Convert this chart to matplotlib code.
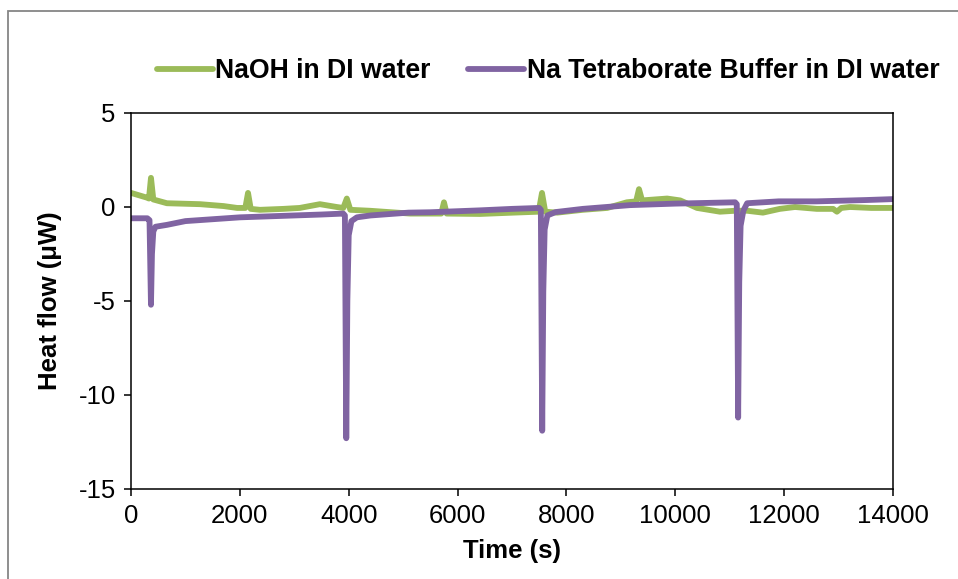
import numpy as np
import matplotlib
matplotlib.use('Agg')
import matplotlib.pyplot as plt
from matplotlib.patches import Rectangle

plt.rcParams['font.family'] = ['Liberation Sans', 'DejaVu Sans']
plt.rcParams['axes.unicode_minus'] = False

# NaOH in DI water (green)
naoh_t = [0, 290, 330, 367, 410, 660, 1270, 1700, 1950, 2100, 2150, 2200, 2370,
          2800, 3100, 3470, 3780, 3900, 3965, 4030, 4390, 5130, 5700, 5750, 5800,
          6410, 7020, 7490, 7551, 7610, 7830, 8300, 8750, 9110, 9280, 9333, 9390,
          9850, 10090, 10400, 10820, 11100, 11320, 11610, 11920, 12200, 12600,
          12900, 12970, 13050, 13210, 13600, 14000]
naoh_q = [0.75, 0.5, 0.45, 1.55, 0.4, 0.2, 0.15, 0.05, -0.05, -0.05, 0.75, -0.1, -0.15,
          -0.1, -0.05, 0.15, 0.0, -0.05, 0.45, -0.15, -0.2, -0.35, -0.35, 0.25, -0.35,
          -0.37, -0.3, -0.25, 0.75, -0.25, -0.3, -0.15, -0.05, 0.25, 0.3, 0.95, 0.35,
          0.45, 0.35, -0.05, -0.25, -0.2, -0.2, -0.3, -0.1, 0.0, -0.1,
          -0.1, -0.25, -0.05, 0.0, -0.05, -0.05]

# Na Tetraborate Buffer in DI water (purple)
borate_t = [0, 300, 340, 367, 385, 410, 450, 660, 1000, 1500, 2000, 2500, 3000,
            3500, 3900, 3930, 3955, 3975, 4000, 4050, 4150, 4400, 5100, 5500, 6400,
            7000, 7500, 7530, 7555, 7575, 7600, 7650, 7800, 8300, 9170, 10000,
            11100, 11130, 11155, 11175, 11200, 11250, 11320, 11900, 12600, 13500, 14000]
borate_q = [-0.6, -0.6, -0.7, -5.2, -2.5, -1.3, -1.05, -0.95, -0.75, -0.65, -0.55, -0.5, -0.45,
            -0.4, -0.35, -0.45, -12.3, -5.0, -1.5, -0.75, -0.55, -0.45, -0.3, -0.28, -0.18,
            -0.1, -0.05, -0.15, -11.9, -4.5, -1.2, -0.45, -0.27, -0.1, 0.1, 0.18,
            0.25, 0.15, -11.2, -4.0, -1.0, -0.2, 0.2, 0.3, 0.3, 0.37, 0.42]

x_ticks = [0, 2000, 4000, 6000, 8000, 10000, 12000, 14000]
y_ticks = [-15, -10, -5, 0, 5]

green = '#9BBB59'
purple = '#8064A2'
lw = 4.2

fig = plt.figure(figsize=(9.58, 5.79), dpi=100)
ax = fig.add_axes([131/958, 1-489/579, (893-131)/958, (489-113)/579])

ax.plot(naoh_t, naoh_q, color=green, lw=lw, solid_capstyle='round',
        solid_joinstyle='round', label='NaOH in DI water')
ax.plot(borate_t, borate_q, color=purple, lw=lw, solid_capstyle='round',
        solid_joinstyle='round', label='Na Tetraborate Buffer in DI water')

ax.set_xlim(0, 14000)
ax.set_ylim(-15, 5)
ax.set_xticks(x_ticks)
ax.set_yticks(y_ticks)
ax.tick_params(direction='out', length=5, width=1.1, labelsize=18.5, pad=6, color='black')
for s in ax.spines.values():
    s.set_linewidth(1.1)
    s.set_color('black')

ax.set_xlabel('Time (s)', fontsize=18.5, fontweight='bold', labelpad=8)
ax.set_ylabel('Heat flow (\u03bcW)', fontsize=18.5, fontweight='bold', labelpad=11.5)

leg = ax.legend(loc='center', bbox_to_anchor=((548-131)/762, 1 + (113-71)/376), ncol=2,
                frameon=False, prop={'size': 19.2, 'weight': 'bold'}, handlelength=2.1,
                handletextpad=0.1, columnspacing=1.4, borderaxespad=0)
for ln in leg.get_lines():
    ln.set_linewidth(lw)
    ln.set_solid_capstyle('round')

# outer chart frame (only top and left edges fall inside the picture)
fig.patches.append(Rectangle((8/958, -0.1), 1.0, 0.1 + 1 - 11/579, transform=fig.transFigure,
                             fill=False, edgecolor='#868686', lw=1.3))

fig.savefig('out.png', dpi=100)
